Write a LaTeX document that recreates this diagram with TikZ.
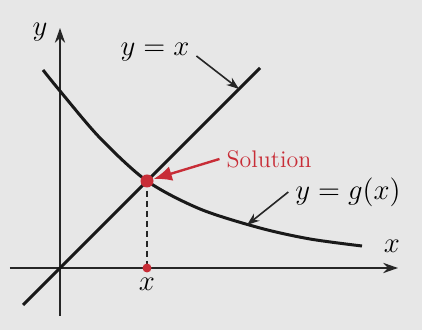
\documentclass[tikz,border=0pt]{standalone}
\usepackage{amsmath}
\usepackage{xcolor}
\usepackage{tikz}
\usetikzlibrary{positioning,arrows.meta,backgrounds}
\definecolor{bggray}{RGB}{231,231,231}
\definecolor{solred}{RGB}{200,45,55}

\begin{document}
\begin{tikzpicture}[
  x=0.5pt,y=0.5pt,
  font=\Large,
  ax/.style={draw=black!85,line width=0.9pt,-{Stealth[length=2.6mm,width=1.8mm]}},
  cv/.style={draw=black!90,line width=1.5pt},
  ptr/.style={draw=black!85,line width=0.8pt,-{Stealth[length=2.2mm,width=1.6mm]}},
  dot/.style={circle,fill=solred,inner sep=0pt}
]
% background and frame of the picture
\fill[bggray] (-60,-62) rectangle (362,268);
\useasboundingbox (-60,-62) rectangle (362,268);

% axes
\coordinate (o) at (0,0);
\coordinate (xs) at (-50,0);
\coordinate (xe) at (338,0);
\coordinate (ys) at (0,-48);
\coordinate (ye) at (0,240);
\draw[ax] (xs) -- (xe);
\draw[ax] (ys) -- (ye);
\node (ylab) at (-20,236) {$y$};
\node (xlab) at (332,22) {$x$};

% y = x and y = g(x)
\coordinate (ls) at (-37,-37);
\coordinate (le) at (200,200);
\draw[cv] (ls) -- (le);
\draw[cv] plot[smooth] coordinates {(-17,198) (0,177) (40,130) (87,87) (140,59) (200,40) (250,29) (302,22)};

% fixed point and its projection
\coordinate (sol) at (87,87);
\coordinate (solx) at (87,0);
\draw[draw=black!85,line width=1pt,dash pattern=on 3pt off 2pt] (sol) -- (solx);
\node[dot,minimum size=6.5pt] (sdot) at (sol) {};
\node[dot,minimum size=4.5pt] (xdot) at (solx) {};
\node (xstar) at (87,-16) {$x$};

% labels with pointers
\node (lid) at (95,216) {$y=x$};
\coordinate (onid) at (179,179);
\draw[ptr] ([yshift=-2pt]lid.east) -- (onid);

\node[font=\large,text=solred] (slab) at (209,109) {Solution};
\draw[draw=solred,line width=1.2pt,-{Latex[length=3.2mm,width=2.6mm]}] (slab.west) -- (sdot);

\node (glab) at (288,76) {$y=g(x)$};
\coordinate (ong) at (187,43);
\draw[ptr] (glab.west) -- (ong);
\end{tikzpicture}
\end{document}
